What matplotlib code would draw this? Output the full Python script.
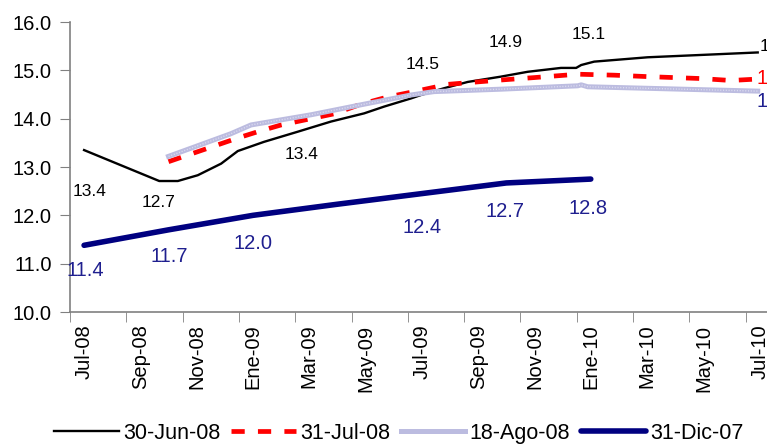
import matplotlib.pyplot as plt
from matplotlib.font_manager import FontProperties

plt.rcParams['font.family'] = ['Liberation Sans', 'DejaVu Sans']

# eje x: meses desde Jul-08 (0) hasta Jul-10 (24)
meses = ['Jul-08', 'Sep-08', 'Nov-08', 'Ene-09', 'Mar-09', 'May-09', 'Jul-09',
         'Sep-09', 'Nov-09', 'Ene-10', 'Mar-10', 'May-10', 'Jul-10']
pos_meses = list(range(0, 25, 2))

# curva al 30-Jun-08
x_jun = [0, 2.67, 3.33, 4.04, 4.87, 5.46, 6.39, 7.59, 8.77, 9.95, 10.66, 11.62,
         11.97, 12.79, 13.63, 14.81, 15.76, 16.94, 17.48, 17.66, 18.12, 20.02, 22.38, 23.93]
y_jun = [13.35, 12.71, 12.71, 12.83, 13.07, 13.33, 13.52, 13.73, 13.94, 14.11, 14.25, 14.42,
         14.49, 14.63, 14.76, 14.87, 14.97, 15.05, 15.05, 15.11, 15.18, 15.27, 15.33, 15.37]

# curva al 31-Jul-08
x_jul = [3.0, 5.46, 6.17, 7.0, 8.06, 8.88, 9.84, 10.79, 11.72, 12.92, 13.75, 14.81,
         15.99, 17.54, 18.83, 20.02, 21.92, 22.98, 23.93]
y_jul = [13.11, 13.6, 13.73, 13.87, 14.0, 14.1, 14.3, 14.45, 14.56, 14.71, 14.75, 14.8,
         14.85, 14.92, 14.9, 14.87, 14.83, 14.79, 14.82]

# curva al 18-Ago-08
x_ago = [3.0, 5.22, 5.93, 8.06, 9.95, 11.62, 12.43, 14.81, 17.54, 17.66, 17.89, 23.93]
y_ago = [13.22, 13.69, 13.87, 14.08, 14.3, 14.49, 14.56, 14.61, 14.68, 14.7, 14.66, 14.57]

# curva al 31-Dic-07 (trimestral)
x_dic = [0, 3, 6, 9, 12, 15, 18]
y_dic = [11.38, 11.7, 12.0, 12.23, 12.45, 12.67, 12.75]

# etiquetas de datos (texto, x, y)
etq_negro = [('13.4', 0.2, 12.49), ('12.7', 2.65, 12.26), ('13.4', 7.71, 13.25),
             ('14.5', 12.03, 15.13), ('14.9', 14.96, 15.57), ('15.1', 17.92, 15.75),
             ('15.4', 24.6, 15.49)]
etq_azul = [('11.4', 0.04, 10.85), ('11.7', 3.03, 11.14), ('12.0', 5.99, 11.42),
            ('12.4', 12.0, 11.75), ('12.7', 14.96, 12.07), ('12.8', 17.92, 12.14),
            ('14.6', 24.6, 14.35)]
etq_rojo = [('14.8', 24.6, 14.83)]

fig = plt.figure(figsize=(7.67, 4.46), dpi=100)
ax = fig.add_axes([70 / 767, 134 / 446, 697 / 767, 290 / 446])

ax.plot(x_jun, y_jun, color='black', lw=1.7, label='30-Jun-08', zorder=3)
ax.plot(x_jul, y_jul, color='#ff0000', lw=3.4, linestyle=(0, (2.8, 2.8)),
        label='31-Jul-08', zorder=3)
ax.plot(x_ago, y_ago, color='#bcbce0', lw=3.6, label='18-Ago-08', zorder=4)
# textura punteada de la linea gris
ax.plot(x_ago, y_ago, color='#dcdcf0', lw=1.0, linestyle=(0, (0.8, 1.2)), zorder=5)
ax.plot(x_dic, y_dic, color='#000080', lw=4, solid_capstyle='round',
        label='31-Dic-07', zorder=3)

for t, x, y in etq_negro:
    ax.text(x, y, t, fontsize=12.5, color='black', ha='center', va='center', clip_on=False)
for t, x, y in etq_azul:
    ax.text(x, y, t, fontsize=14.5, color='#1f1f8f', ha='center', va='center', clip_on=False)
for t, x, y in etq_rojo:
    ax.text(x, y, t, fontsize=14.5, color='#ff0000', ha='center', va='center', clip_on=False)

ax.set_ylim(10, 16)
ax.set_xlim(-0.5, 24.26)
ax.set_yticks(range(10, 17))
ax.set_yticklabels(['%.1f' % v for v in range(10, 17)], fontsize=14.5)

ax.set_xticks(pos_meses)
ax.set_xticklabels(meses, rotation=90, fontsize=14.5)
ax.set_xticks([p - 0.5 for p in pos_meses], minor=True)
ax.tick_params(axis='x', which='major', length=0, pad=9)
ax.tick_params(axis='x', which='minor', length=7, color='#808080', direction='out')
ax.tick_params(axis='y', length=7, color='#808080', direction='out', pad=6)

for s in ['top', 'right']:
    ax.spines[s].set_visible(False)
for s in ['left', 'bottom']:
    ax.spines[s].set_color('#808080')
    ax.spines[s].set_linewidth(1.2)

fuente_ley = FontProperties(family=['Liberation Sans Narrow', 'Liberation Sans'], size=15.5)
fig.legend(loc='center', bbox_to_anchor=(0.52, 0.029), ncol=4, frameon=False,
           prop=fuente_ley, handlelength=3.0, handletextpad=0.2, columnspacing=0.5,
           borderaxespad=0)

fig.savefig('out.png', dpi=100)
